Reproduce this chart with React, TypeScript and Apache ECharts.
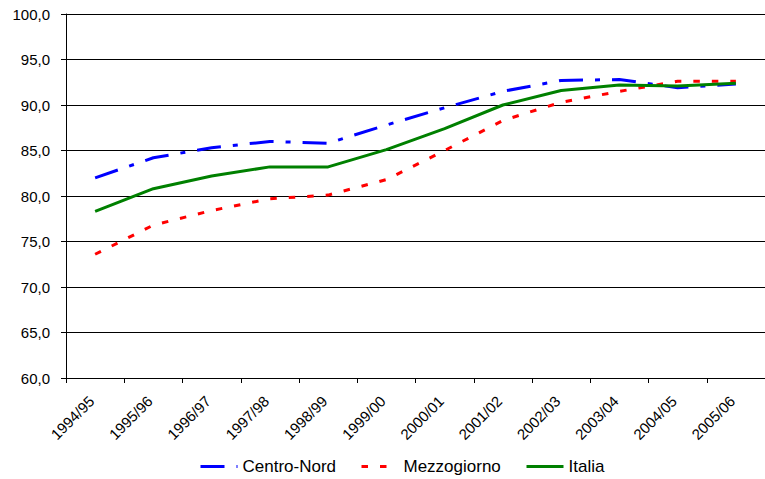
import React, { useEffect, useRef } from "react";
import * as echarts from "echarts";

const categories = [
  "1994/95", "1995/96", "1996/97", "1997/98", "1998/99", "1999/00",
  "2000/01", "2001/02", "2002/03", "2003/04", "2004/05", "2005/06",
];
const centroNord = [82.0, 84.2, 85.3, 86.0, 85.8, 87.8, 89.7, 91.5, 92.7, 92.8, 91.9, 92.3];
const mezzogiorno = [73.6, 76.8, 78.4, 79.7, 80.1, 81.8, 85.0, 88.3, 90.3, 91.5, 92.6, 92.6];
const italia = [78.3, 80.8, 82.2, 83.2, 83.2, 85.1, 87.4, 90.0, 91.6, 92.2, 92.1, 92.4];
const seriesNames = ["Centro-Nord", "Mezzogiorno", "Italia"];

const FONT = "'Liberation Sans', Arial, sans-serif";

export default function App() {
  const ref = useRef<HTMLDivElement>(null);
  useEffect(() => {
    if (!ref.current) return;
    const chart = echarts.init(ref.current, undefined, { renderer: "svg" });
    const legendLefts = [199, 360, 525];
    chart.setOption({
      animation: false,
      backgroundColor: "#ffffff",
      textStyle: { fontFamily: FONT },
      grid: { left: 66, top: 14, bottom: 101, right: -9, containLabel: false },
      legend: seriesNames.map((n, i) => ({
        left: legendLefts[i],
        top: 458,
        padding: 0,
        itemWidth: 37,
        itemHeight: 12,
        itemStyle: { opacity: 0 },
        lineStyle: { width: 3 },
        textStyle: { fontSize: 17, color: "#000", fontFamily: FONT },
        data: [n],
      })),
      xAxis: {
        type: "category",
        data: categories,
        boundaryGap: true,
        axisLine: { lineStyle: { color: "#000", width: 1 } },
        axisTick: { show: true, length: 5, alignWithLabel: false, lineStyle: { color: "#000" } },
        axisLabel: {
          rotate: 45,
          interval: 0,
          margin: 17,
          padding: [0, 5, 0, 0],
          fontSize: 15,
          color: "#000",
          fontFamily: FONT,
        },
        splitLine: { show: false },
      },
      yAxis: {
        type: "value",
        min: 60,
        max: 100,
        interval: 5,
        axisLine: { show: true, lineStyle: { color: "#000", width: 1 } },
        axisTick: { show: true, length: 5, lineStyle: { color: "#000" } },
        axisLabel: {
          fontSize: 15,
          color: "#000",
          margin: 16,
          fontFamily: FONT,
          formatter: (v: number) => v.toFixed(1).replace(".", ","),
        },
        splitLine: { show: true, lineStyle: { color: "#000", width: 1 } },
      },
      series: [
        {
          name: seriesNames[0],
          type: "line",
          data: centroNord,
          symbol: "none",
          showSymbol: false,
          lineStyle: { color: "#0000ff", width: 3, type: [24, 12, 5, 12], cap: "butt" },
          itemStyle: { color: "#0000ff" },
        },
        {
          name: seriesNames[1],
          type: "line",
          data: mezzogiorno,
          symbol: "none",
          showSymbol: false,
          lineStyle: { color: "#ff0000", width: 3, type: [6.5, 12], cap: "butt" },
          itemStyle: { color: "#ff0000" },
        },
        {
          name: seriesNames[2],
          type: "line",
          data: italia,
          symbol: "none",
          showSymbol: false,
          lineStyle: { color: "#008000", width: 3 },
          itemStyle: { color: "#008000" },
        },
      ],
    });
    return () => chart.dispose();
  }, []);
  return (
    <div
      ref={ref}
      style={{ position: "absolute", left: 0, top: 0, width: 765, height: 479 }}
    />
  );
}
